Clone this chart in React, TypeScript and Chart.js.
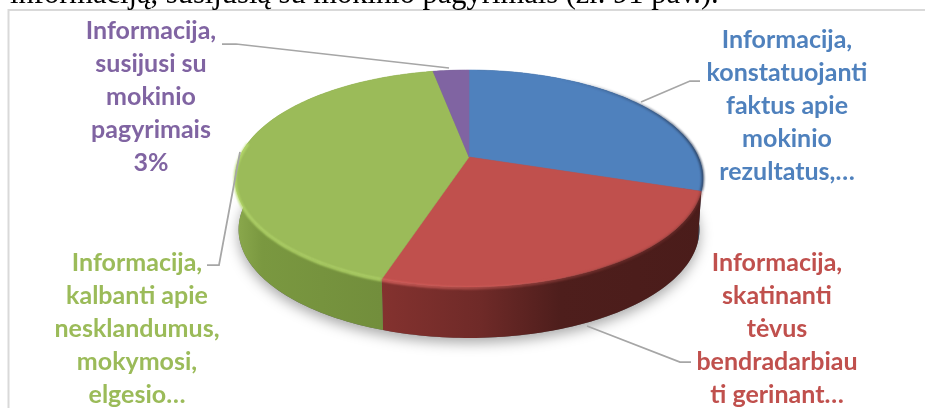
import React, { useEffect, useRef } from "react";
import { Chart, registerables } from "chart.js";

Chart.register(...registerables);

const categories = [
  "Informacija, konstatuojanti faktus apie mokinio rezultatus,…",
  "Informacija, skatinanti tėvus bendradarbiauti gerinant…",
  "Informacija, kalbanti apie nesklandumus, mokymosi, elgesio…",
  "Informacija, susijusi su mokinio pagyrimais",
];
const values = [30, 25, 42, 3];
const faceColors = ["#4f81bd", "#c0504d", "#9bbb59", "#8064a2"];
const labelLines = [
  ["Informacija,", "konstatuojanti", "faktus apie", "mokinio", "rezultatus,…"],
  ["Informacija,", "skatinanti", "tėvus", "bendradarbiau", "ti gerinant…"],
  ["Informacija,", "kalbanti apie", "nesklandumus,", "mokymosi,", "elgesio…"],
  ["Informacija,", "susijusi su", "mokinio", "pagyrimais", "3%"],
];
const labelCenters = [787, 777, 137, 151];
const labelTops = [40, 263, 263, 31];
const labelStep = 33;
const leaders = [
  [[641, 102], [690, 81], [700, 81]],
  [[587, 326], [680, 362], [691, 362]],
  [[207, 265], [219, 265], [240, 152]],
  [[222, 44], [236, 44], [449, 68]],
];
const caption = "informaciją, susijusią su mokinio pagyrimais (žr. 91 pav.).";

// Tilted-disc projection of the pie
const CX = 469, CY = 157, A = 229.3, B = 104.2, K = 0.198, DEPTH = 51, BASE_X = 0.985;
const proj = (theta: number, dz = 0): [number, number] => {
  const u = Math.cos(theta), v = Math.sin(theta);
  const w = 1 / (1 - K * v);
  return [CX + A * u * w * (dz > 2 ? BASE_X : 1), CY + B * v * w + dz];
};
const trace = (ctx: CanvasRenderingContext2D, a0: number, a1: number, dz = 0, move = true) => {
  const n = Math.max(2, Math.ceil(Math.abs(a1 - a0) / 0.02));
  for (let i = 0; i <= n; i++) {
    const [x, y] = proj(a0 + ((a1 - a0) * i) / n, dz);
    if (i === 0 && move) ctx.moveTo(x, y);
    else ctx.lineTo(x, y);
  }
};

const wallStops = [
  [[640, "#2f4767"], [710, "#22344d"]],
  [[381, "#84322f"], [480, "#6f2a28"], [560, "#4e1e1c"], [710, "#4a1c1a"]],
  [[237, "#8aa84c"], [262, "#7a9840"], [381, "#728e3c"]],
  [[430, "#5a4674"], [470, "#5a4674"]],
] as [number, string][][];

const projectedPie = {
  id: "projectedPie",
  beforeDatasetsDraw(chart: any) {
    const ctx: CanvasRenderingContext2D = chart.ctx;
    const arcs = chart.getDatasetMeta(0).data as any[];
    ctx.save();
    // soft cast shadow
    ctx.save();
    ctx.shadowColor = "rgba(0,0,0,0.34)";
    ctx.shadowBlur = 13;
    ctx.shadowOffsetY = 5;
    ctx.fillStyle = "#666";
    ctx.beginPath();
    trace(ctx, 0, Math.PI * 2, DEPTH);
    ctx.closePath();
    ctx.fill();
    ctx.restore();
    // walls
    arcs.forEach((arc, i) => {
      const first = wallStops[i][0][0] as number;
      const last = wallStops[i][wallStops[i].length - 1][0] as number;
      const g = ctx.createLinearGradient(first, 0, last, 0);
      wallStops[i].forEach(([x, c]) => g.addColorStop(((x as number) - first) / (last - first), c as string));
      ctx.fillStyle = g;
      ctx.beginPath();
      trace(ctx, arc.startAngle, arc.endAngle, 0);
      trace(ctx, arc.endAngle, arc.startAngle, DEPTH, false);
      ctx.closePath();
      ctx.fill();
    });
    // faces
    arcs.forEach((arc) => {
      ctx.fillStyle = arc.options.backgroundColor;
      ctx.strokeStyle = arc.options.backgroundColor;
      ctx.lineWidth = 0.6;
      ctx.beginPath();
      ctx.moveTo(CX, CY);
      trace(ctx, arc.startAngle, arc.endAngle, 0, false);
      ctx.closePath();
      ctx.fill();
      ctx.stroke();
    });
    // rim bevel: bright on the lit front, dark on the far right
    ctx.lineCap = "butt";
    ctx.lineWidth = 2.5;
    ctx.filter = "blur(1px)";
    const [blue, red, green] = arcs;
    const gb = ctx.createLinearGradient(560, 0, 700, 0);
    gb.addColorStop(0, "rgba(35,52,80,0)");
    gb.addColorStop(1, "rgba(35,52,80,0.8)");
    ctx.strokeStyle = gb;
    ctx.beginPath();
    trace(ctx, blue.startAngle, blue.endAngle, 0);
    ctx.stroke();
    const gr = ctx.createLinearGradient(381, 0, 620, 0);
    gr.addColorStop(0, "rgba(226,104,100,0.9)");
    gr.addColorStop(0.55, "rgba(226,104,100,0.45)");
    gr.addColorStop(1, "rgba(120,50,48,0.6)");
    ctx.strokeStyle = gr;
    ctx.beginPath();
    trace(ctx, red.startAngle, red.endAngle, 1);
    ctx.stroke();
    ctx.strokeStyle = "rgba(184,220,110,0.95)";
    ctx.beginPath();
    trace(ctx, green.startAngle, green.startAngle + (green.endAngle - green.startAngle) * 0.53, 1);
    ctx.stroke();
    ctx.filter = "none";
    ctx.restore();
    return false;
  },
  afterDraw(chart: any) {
    const ctx: CanvasRenderingContext2D = chart.ctx;
    ctx.save();
    // frame of the embedded chart
    ctx.strokeStyle = "#d9d9d9";
    ctx.lineWidth = 2;
    ctx.beginPath();
    ctx.moveTo(8.5, 408);
    ctx.lineTo(8.5, 10);
    ctx.lineTo(925, 10);
    ctx.stroke();
    // caption line clipped by the top of the page
    ctx.fillStyle = "#000";
    ctx.font = '30.5px "Liberation Serif"';
    ctx.textBaseline = "alphabetic";
    ctx.textAlign = "left";
    ctx.fillText(caption, 10, 3);
    // leader lines
    ctx.strokeStyle = "#a6a6a6";
    ctx.lineWidth = 1.75;
    leaders.forEach((pts) => {
      ctx.beginPath();
      pts.forEach(([x, y], k) => (k ? ctx.lineTo(x, y) : ctx.moveTo(x, y)));
      ctx.stroke();
    });
    // data labels
    ctx.font = "bold 25px Lato";
    ctx.textAlign = "center";
    ctx.textBaseline = "middle";
    labelLines.forEach((lines, i) => {
      ctx.fillStyle = faceColors[i];
      lines.forEach((t, k) => ctx.fillText(t, labelCenters[i], labelTops[i] + k * labelStep));
    });
    ctx.restore();
  },
};

export default function App() {
  const ref = useRef<HTMLCanvasElement>(null);
  useEffect(() => {
    const chart = new Chart(ref.current!, {
      type: "pie",
      data: {
        labels: categories,
        datasets: [{ data: values, backgroundColor: faceColors, borderWidth: 0 }],
      },
      options: {
        animation: false,
        responsive: false,
        plugins: { legend: { display: false }, tooltip: { enabled: false } },
      },
      plugins: [projectedPie],
    });
    return () => chart.destroy();
  }, []);
  return (
    <div style={{ position: "fixed", left: 0, top: 0, width: 925, height: 408, overflow: "hidden", background: "#fff" }}>
      <canvas ref={ref} width={925} height={408} style={{ display: "block" }} />
    </div>
  );
}
